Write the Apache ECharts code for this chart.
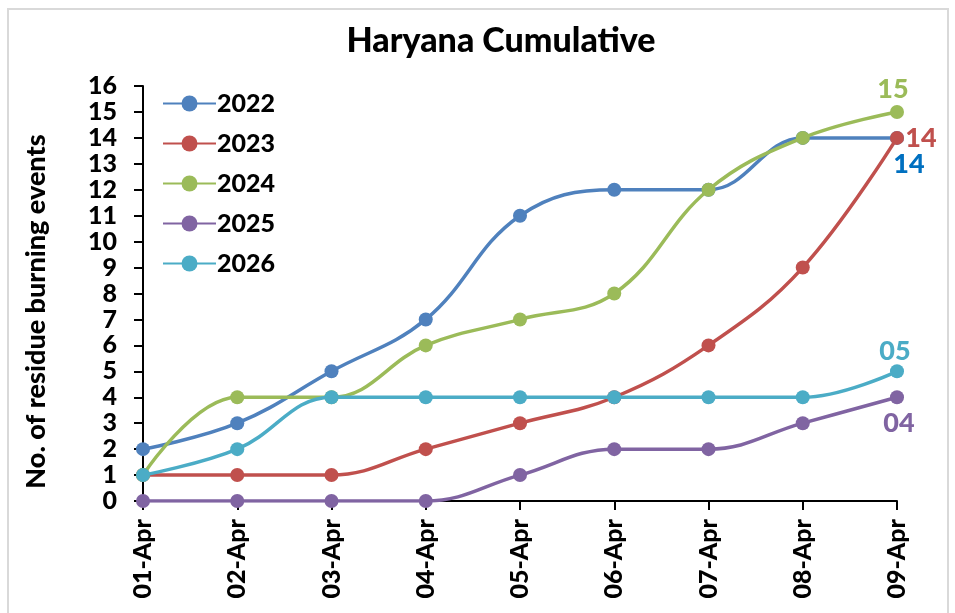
<!DOCTYPE html>
<html>
<head>
<meta charset="utf-8">
<script src="https://cdn.jsdelivr.net/npm/echarts@6/dist/echarts.min.js"></script>
<style>
  html, body { margin: 0; padding: 0; background: #fff; }
  #main { width: 955px; height: 613px; }
</style>
</head>
<body>
<div id="main"></div>
<script>
// categories (x axis)
var days = ['01-Apr', '02-Apr', '03-Apr', '04-Apr', '05-Apr', '06-Apr', '07-Apr', '08-Apr', '09-Apr'];

// cumulative counts per season
var years = ['2022', '2023', '2024', '2025', '2026'];
var v2022 = [2, 3, 5, 7, 11, 12, 12, 14, 14];
var v2023 = [1, 1, 1, 2, 3, 4, 6, 9, 14];
var v2024 = [1, 4, 4, 6, 7, 8, 12, 14, 15];
var v2025 = [0, 0, 0, 0, 1, 2, 2, 3, 4];
var v2026 = [1, 2, 4, 4, 4, 4, 4, 4, 5];

var colors = ['#4F81BD', '#C0504D', '#9BBB59', '#8064A2', '#4BACC6'];
var labelColors = ['#0070C0', '#C0504D', '#9BBB59', '#8064A2', '#4BACC6'];
// where the end label sits, relative to the last point
var labelPos = [[12, 26], [24, 0], [-4, -23], [2, 26], [-2, -20]];

var font = 'Lato, "Open Sans", sans-serif';
var heavy = 900;

function pad2(n) { return (n < 10 ? '0' : '') + n; }

// only the last point gets a value label
function withEndLabel(values, i) {
    return values.map(function (v, k) {
        if (k !== values.length - 1) return v;
        return {
            value: v,
            label: {
                show: true,
                position: 'inside',
                offset: labelPos[i],
                formatter: function (p) { return pad2(p.value); },
                color: labelColors[i],
                fontSize: 27,
                fontWeight: heavy,
                fontFamily: font
            }
        };
    });
}

var allValues = [v2022, v2023, v2024, v2025, v2026];
var series = allValues.map(function (vals, i) {
    return {
        name: years[i],
        type: 'line',
        smooth: 0.4,
        symbol: 'circle',
        symbolSize: 14,
        lineStyle: { width: 3.5, color: colors[i] },
        itemStyle: { color: colors[i] },
        data: withEndLabel(vals, i),
        z: 2 + i
    };
});

var chart = echarts.init(document.getElementById('main'));
chart.setOption({
    animation: false,
    backgroundColor: '#fff',
    color: colors,
    title: {
        text: 'Haryana Cumulative',
        left: 496,
        textAlign: 'center',
        top: 19,
        textStyle: { fontSize: 34, fontWeight: heavy, color: '#000', fontFamily: font }
    },
    legend: {
        orient: 'vertical',
        left: 157,
        top: 86,
        itemWidth: 53,
        itemHeight: 20,
        itemGap: 15,
        data: years,
        textStyle: { fontSize: 25, fontWeight: heavy, color: '#000', fontFamily: font, lineHeight: 25, padding: [0, 0, 0, -4] }
    },
    grid: { left: 143, right: 58, top: 86, bottom: 112, containLabel: false },
    xAxis: {
        type: 'category',
        data: days,
        boundaryGap: false,
        axisLine: { lineStyle: { color: '#000', width: 2 } },
        axisTick: { show: true, alignWithLabel: true, length: 9, lineStyle: { color: '#000', width: 2 } },
        axisLabel: { rotate: 90, margin: 18, fontSize: 25, fontWeight: heavy, color: '#000', fontFamily: font }
    },
    yAxis: {
        type: 'value',
        min: 0,
        max: 16,
        interval: 1,
        name: 'No. of residue burning events',
        nameLocation: 'middle',
        nameGap: 93,
        nameTextStyle: { fontSize: 27, fontWeight: heavy, color: '#000', fontFamily: font, padding: [0, 36, 0, 0] },
        splitLine: { show: false },
        axisLine: { show: true, lineStyle: { color: '#000', width: 2 } },
        axisTick: { show: true, length: 9, lineStyle: { color: '#000', width: 2 } },
        axisLabel: { margin: 26, fontSize: 25, fontWeight: heavy, color: '#000', fontFamily: font }
    },
    graphic: [{
        type: 'rect',
        shape: { x: 8, y: 9, width: 940, height: 620 },
        style: { fill: 'none', stroke: '#d9d9d9', lineWidth: 2 },
        silent: true
    }],
    series: series
});
</script>
</body>
</html>
